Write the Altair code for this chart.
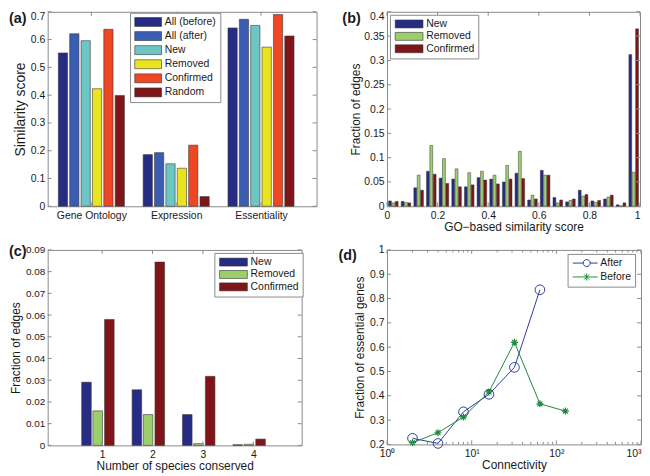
import json
import altair as alt
import pandas as pd

# ---------------- data ----------------
# (a) similarity scores
a_categories = ["Gene Ontology", "Expression", "Essentiality"]
a_series = ["All (before)", "All (after)", "New", "Removed", "Confirmed", "Random"]
a_all_before = [0.552, 0.186, 0.642]
a_all_after = [0.621, 0.193, 0.673]
a_new = [0.596, 0.153, 0.651]
a_removed = [0.423, 0.137, 0.573]
a_confirmed = [0.637, 0.220, 0.690]
a_random = [0.399, 0.035, 0.613]
a_colors = ["#262C84", "#3A5DB1", "#6CC6C3", "#E9E41E", "#EF4624", "#7F1518"]
a_xticks = [1, 2, 3]
a_yticks = [0, 0.1, 0.2, 0.3, 0.4, 0.5, 0.6, 0.7]

# (b) GO-based similarity histogram (bin centres)
b_centers = [0.025, 0.075, 0.125, 0.175, 0.225, 0.275, 0.325, 0.375, 0.425, 0.475,
             0.525, 0.575, 0.625, 0.675, 0.725, 0.775, 0.825, 0.875, 0.925, 0.975]
b_series = ["New", "Removed", "Confirmed"]
b_new = [0.011, 0.010, 0.038, 0.072, 0.058, 0.056, 0.040, 0.059, 0.056, 0.050,
         0.068, 0.013, 0.074, 0.018, 0.009, 0.033, 0.011, 0.015, 0.003, 0.312]
b_removed = [0.007, 0.008, 0.064, 0.125, 0.098, 0.077, 0.069, 0.072, 0.064, 0.084,
             0.113, 0.023, 0.064, 0.007, 0.012, 0.021, 0.008, 0.019, 0.001, 0.070]
b_confirmed = [0.010, 0.007, 0.033, 0.066, 0.047, 0.040, 0.044, 0.054, 0.046, 0.056,
               0.057, 0.015, 0.064, 0.013, 0.015, 0.024, 0.012, 0.023, 0.007, 0.365]
b_colors = ["#262C84", "#9CCF6C", "#7F1518"]
b_xticks = [0, 0.2, 0.4, 0.6, 0.8, 1]
b_yticks = [0, 0.05, 0.1, 0.15, 0.2, 0.25, 0.3, 0.35, 0.4]

# (c) number of species conserved
c_species = [1, 2, 3, 4]
c_new = [0.0291, 0.0256, 0.0142, 0.0003]
c_removed = [0.0159, 0.0142, 0.0008, 0.0005]
c_confirmed = [0.0580, 0.0844, 0.0318, 0.0029]
c_yticks = [0, 0.01, 0.02, 0.03, 0.04, 0.05, 0.06, 0.07, 0.08, 0.09]

# (d) fraction of essential genes vs connectivity
d_series = ["After", "Before"]
d_conn_after = [2, 4, 8, 16, 32, 64]
d_after = [0.225, 0.204, 0.334, 0.406, 0.517, 0.836]
d_conn_before = [2, 4, 8, 16, 32, 64, 128]
d_before = [0.207, 0.248, 0.313, 0.416, 0.620, 0.367, 0.337]
d_colors = ["#2E3C98", "#1F8A3E"]
d_xticks = [1, 10, 100, 1000]
d_xminor = [2, 3, 4, 5, 6, 7, 8, 9, 20, 30, 40, 50, 60, 70, 80, 90,
            200, 300, 400, 500, 600, 700, 800, 900]
d_yticks = [0.2, 0.3, 0.4, 0.5, 0.6, 0.7, 0.8, 0.9, 1]

# ---------------- style / layout ----------------
FONT = "Liberation Sans"
TXT = "#1a1a1a"
FRAME = "#8a8a8a"
LAB = 10.5
TIT = 12
TL = 4  # inner tick length (px)

# ---------------- tables ----------------
a_vals = [a_all_before, a_all_after, a_new, a_removed, a_confirmed, a_random]
df_a = pd.DataFrame([
    {"cat": c, "ci": ci + 1, "series": s, "si": si, "value": a_vals[si][ci]}
    for ci, c in enumerate(a_categories) for si, s in enumerate(a_series)
])
b_vals = [b_new, b_removed, b_confirmed]
df_b = pd.DataFrame([
    {"center": x, "series": s, "si": si, "value": b_vals[si][i]}
    for i, x in enumerate(b_centers) for si, s in enumerate(b_series)
])
c_vals = [c_new, c_removed, c_confirmed]
df_c = pd.DataFrame([
    {"k": k, "series": s, "si": si, "value": c_vals[si][i]}
    for i, k in enumerate(c_species) for si, s in enumerate(b_series)
])
df_d = pd.DataFrame(
    [{"series": "After", "k": k, "value": v} for k, v in zip(d_conn_after, d_after)]
    + [{"series": "Before", "k": k, "value": v} for k, v in zip(d_conn_before, d_before)]
)


def ylab_axis(values, title, tsize=TIT, lsize=LAB, ext=23, flush_top=None):
    kw = {}
    if flush_top is not None:
        kw["labelBaseline"] = {"condition": {"test": f"datum.value == {flush_top}", "value": "top"},
                               "value": "middle"}
    return alt.Axis(values=values, format="~g", title=title, minExtent=ext, maxExtent=ext,
                    titlePadding=2, titleFontSize=tsize, labelFontSize=lsize, **kw)


def panel_label(text, dx, dy):
    return alt.Chart(pd.DataFrame({"t": [text]})).mark_text(
        align="left", baseline="top", font=FONT, fontSize=14.5, fontWeight="bold", color=TXT
    ).encode(text="t:N", x=alt.value(dx), y=alt.value(dy))


def inner_ticks(xfield, xenc, xvals, yfield, yenc, yvals, W, H, tl=TL):
    dfx = pd.DataFrame({xfield: xvals})
    dfy = pd.DataFrame({yfield: yvals})
    rule = dict(color=FRAME, strokeWidth=1)
    return [
        alt.Chart(dfy).mark_rule(**rule).encode(y=yenc, x=alt.value(0), x2=alt.value(tl)),
        alt.Chart(dfy).mark_rule(**rule).encode(y=yenc, x=alt.value(W - tl), x2=alt.value(W)),
        alt.Chart(dfx).mark_rule(**rule).encode(x=xenc, y=alt.value(H - tl), y2=alt.value(H)),
        alt.Chart(dfx).mark_rule(**rule).encode(x=xenc, y=alt.value(0), y2=alt.value(tl)),
    ]


def bar_legend(lx, ly, path, size, lo, rp):
    return alt.Legend(title=None, orient="none", legendX=lx, legendY=ly,
                      symbolType=path, symbolSize=size,
                      symbolStrokeColor="#333333", symbolStrokeWidth=0.6,
                      labelOffset=lo, rowPadding=rp, fillColor="white",
                      strokeColor=FRAME, padding=4)


RECT6 = "M-1,-1H5V1H-1Z"
RECT7 = "M-1,-1H6V1H-1Z"

# ---------------- (a) ----------------
WA, HA = 271, 196
A_STEP, A_W = 0.134, 0.109
a_x_expr = json.dumps(a_categories) + "[datum.value - 1]"
xa = alt.X("x0:Q", scale=alt.Scale(domain=[0.485, 3.655], nice=False, zero=False),
           axis=alt.Axis(values=a_xticks, labelExpr=a_x_expr, title=None))
ya = alt.Y("value:Q", scale=alt.Scale(domain=[0, 0.7], nice=False),
           axis=ylab_axis(a_yticks, "Similarity score", 14, ext=18, flush_top=0.7))
bars_a = alt.Chart(df_a).transform_calculate(
    xc=f"datum.ci + (datum.si - 2.5) * {A_STEP}"
).transform_calculate(
    x0=f"datum.xc - {A_W / 2}", x1=f"datum.xc + {A_W / 2}"
).mark_rect(stroke="#3a3a3a", strokeWidth=0.6).encode(
    x=xa, x2="x1:Q", y=ya, y2=alt.datum(0),
    fill=alt.Fill("series:N", scale=alt.Scale(domain=a_series, range=a_colors),
                  legend=bar_legend(83, 1, RECT6, 81, 20.5, 2.2)),
)
chart_a = alt.layer(
    bars_a, *inner_ticks("x0", xa, a_xticks, "value", ya, a_yticks, WA, HA),
    panel_label("(a)", -39, 0)
).properties(width=WA, height=HA)

# ---------------- (b) ----------------
WB, HB = 255, 196
B_STEP, B_W = 0.0133, 0.0113
xb = alt.X("x0:Q", scale=alt.Scale(domain=[0, 1], nice=False, zero=False),
           axis=alt.Axis(values=b_xticks, format="~g", title="GO\u2212based similarity score",
                         labelAlign={"condition": {"test": "datum.value == 1", "value": "right"},
                                     "value": "center"}))
yb = alt.Y("value:Q", scale=alt.Scale(domain=[0, 0.4], nice=False),
           axis=ylab_axis(b_yticks, "Fraction of edges", flush_top=0.4))
bars_b = alt.Chart(df_b).transform_calculate(
    xc=f"datum.center + (datum.si - 1) * {B_STEP}"
).transform_calculate(
    x0=f"datum.xc - {B_W / 2}", x1=f"datum.xc + {B_W / 2}"
).mark_rect(stroke="#3a3a3a", strokeWidth=0.5).encode(
    x=xb, x2="x1:Q", y=yb, y2=alt.datum(0),
    fill=alt.Fill("series:N", scale=alt.Scale(domain=b_series, range=b_colors),
                  legend=bar_legend(3, 3, RECT7, 64, 22, 1.5)),
)
chart_b = alt.layer(
    bars_b, *inner_ticks("x0", xb, b_xticks, "value", yb, b_yticks, WB, HB),
    panel_label("(b)", -45, 0)
).properties(width=WB, height=HB)

# ---------------- (c) ----------------
WC, HC = 256, 197
C_OFF = [-0.31, -0.088, 0.144]
C_W = 0.19
c_off_expr = json.dumps(C_OFF) + "[datum.si]"
xc_ = alt.X("x0:Q", scale=alt.Scale(domain=[-0.08, 4.96], nice=False, zero=False),
            axis=alt.Axis(values=c_species, format="d", title="Number of species conserved"))
yc_ = alt.Y("value:Q", scale=alt.Scale(domain=[0, 0.09], nice=False),
            axis=ylab_axis(c_yticks, "Fraction of edges", lsize=10))
bars_c = alt.Chart(df_c).transform_calculate(
    xc=f"datum.k + {c_off_expr}"
).transform_calculate(
    x0=f"datum.xc - {C_W / 2}", x1=f"datum.xc + {C_W / 2}"
).mark_rect(stroke="#3a3a3a", strokeWidth=0.6).encode(
    x=xc_, x2="x1:Q", y=yc_, y2=alt.datum(0),
    fill=alt.Fill("series:N", scale=alt.Scale(domain=b_series, range=b_colors),
                  legend=bar_legend(168, 3, RECT7, 64, 22, 1.5)),
)
chart_c = alt.layer(
    bars_c, *inner_ticks("x0", xc_, c_species, "value", yc_, c_yticks, WC, HC),
    panel_label("(c)", -39, -5)
).properties(width=WC, height=HC)

# ---------------- (d) ----------------
WD, HD = 256, 196
sup = json.dumps(["\u2070", "\u00b9", "\u00b2", "\u00b3"])
xs_d = alt.Scale(type="log", domain=[1, 1000], nice=False)
d_x = alt.X("k:Q", scale=xs_d,
            axis=alt.Axis(values=d_xticks, title="Connectivity",
                          labelExpr=f"'10' + {sup}[round(log(datum.value) / LN10)]",
                          labelAlign={"condition": {"test": "datum.value == 1000", "value": "right"},
                                      "value": "center"}))
d_y = alt.Y("value:Q", scale=alt.Scale(domain=[0.2, 1], nice=False, zero=False),
            axis=ylab_axis(d_yticks, "Fraction of essential genes", ext=19))

ASTER = "M-1,0H1M0,-1V1M-0.7,-0.7L0.7,0.7M-0.7,0.7L0.7,-0.7"
d_layers = []
for name, color in zip(d_series, d_colors):
    base = alt.Chart(df_d).transform_filter(alt.datum.series == name)
    d_layers.append(base.mark_line(strokeWidth=1, color=color).encode(x=d_x, y=d_y))
for name, color in zip(d_series, d_colors):
    base = alt.Chart(df_d).transform_filter(alt.datum.series == name)
    if name == "After":
        d_layers.append(base.mark_point(shape="circle", size=95, filled=False, strokeWidth=1,
                                        color=color, opacity=1).encode(x=d_x, y=d_y))
    else:
        d_layers.append(base.mark_point(shape=ASTER, size=50, filled=False, strokeWidth=1.2,
                                        color=color, opacity=1).encode(x=d_x, y=d_y))

LEG_AFTER = "M-1,0H1.625M3.375,0H5.25M1.625,0A0.875,0.875 0 1,0 3.375,0A0.875,0.875 0 1,0 1.625,0"
LEG_BEFORE = "M-1,0H5.25M2.5,-0.9V0.9M1.86,-0.64L3.14,0.64M1.86,0.64L3.14,-0.64"
d_legend = alt.Legend(title=None, orient="none", legendX=182, legendY=4,
                      symbolSize=64, symbolStrokeWidth=1, symbolOpacity=1,
                      symbolFillColor="transparent",
                      labelOffset=18.5, rowPadding=2, fillColor="white",
                      strokeColor=FRAME, padding=4)
legend_d = alt.Chart(df_d).mark_point(size=0, filled=False, strokeWidth=1).encode(
    x=d_x, y=d_y,
    stroke=alt.Stroke("series:N", scale=alt.Scale(domain=d_series, range=d_colors),
                      legend=d_legend),
    shape=alt.Shape("series:N", scale=alt.Scale(domain=d_series, range=[LEG_AFTER, LEG_BEFORE]),
                    legend=d_legend),
)
minor_d = alt.Chart(pd.DataFrame({"k": d_xminor}))
minor_rules = [
    minor_d.mark_rule(color=FRAME, strokeWidth=1).encode(
        x=d_x, y=alt.value(HD - 2.5), y2=alt.value(HD)),
    minor_d.mark_rule(color=FRAME, strokeWidth=1).encode(
        x=d_x, y=alt.value(0), y2=alt.value(2.5)),
]
chart_d = alt.layer(
    *d_layers, legend_d,
    *inner_ticks("k", d_x, d_xticks, "value", d_y, d_yticks, WD, HD), *minor_rules,
    panel_label("(d)", -49, -1)
).properties(width=WD, height=HD)

# ---------------- assemble ----------------
top = alt.hconcat(chart_a, chart_b, spacing=24).resolve_scale(fill="independent")
bottom = alt.hconcat(chart_c, chart_d, spacing=34).resolve_scale(
    fill="independent", stroke="independent", shape="independent")
chart = alt.vconcat(top, bottom, spacing=10).resolve_scale(
    fill="independent", stroke="independent", shape="independent"
).properties(padding=0).configure_view(
    stroke=FRAME, strokeWidth=1
).configure_axis(
    grid=False, domain=False, ticks=False, labelFont=FONT, titleFont=FONT,
    labelFontSize=LAB, titleFontSize=TIT, labelColor=TXT, titleColor=TXT,
    titleFontWeight="normal", labelPadding=3
).configure_axisX(
    labelPadding=4, titlePadding=1
).configure_legend(
    labelFont=FONT, labelFontSize=LAB, labelColor=TXT, labelLimit=300
)

chart.save("out.html", embed_options={"renderer": "svg", "actions": False})
